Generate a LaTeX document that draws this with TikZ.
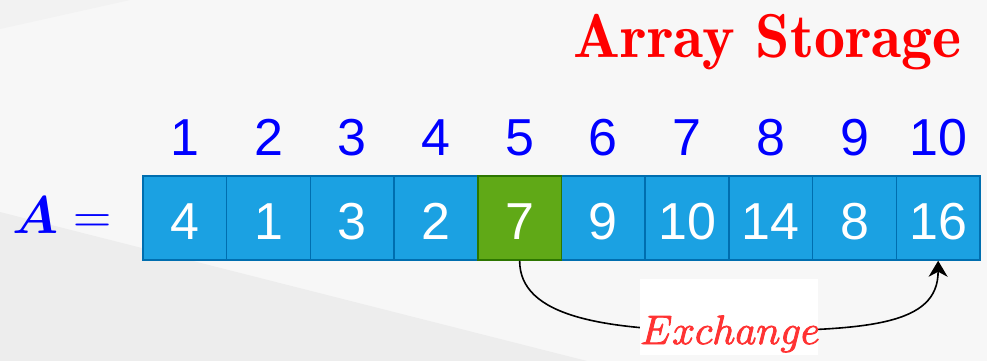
\RequirePackage{fix-cm}
\documentclass[tikz,border=0pt]{standalone}
\usepackage{amsmath}
\usepackage{fontspec}
\usetikzlibrary{arrows.meta}
\newfontfamily\cellfont{Liberation Sans}

% fill-and-stroke text rendering, to give thin glyphs a little weight
\newcommand{\heavytext}[2]{\special{pdf:literal 2 Tr #1 w}#2\special{pdf:literal 0 Tr}}

\definecolor{bgmain}{HTML}{F7F7F7}
\definecolor{bgdark}{HTML}{EDEDED}
\definecolor{bgtop}{HTML}{F2F2F2}
\definecolor{cellfill}{HTML}{1BA1E2}
\definecolor{cellline}{HTML}{006EAF}
\definecolor{pickfill}{HTML}{60A917}
\definecolor{pickline}{HTML}{2D7600}
\definecolor{idxblue}{HTML}{0000FF}
\definecolor{titlered}{HTML}{FF0000}
\definecolor{labelred}{HTML}{FF3333}

\tikzset{
  cellbox/.style={rectangle, draw=cellline, fill=cellfill, line width=1.5pt,
    minimum width=83.7pt, minimum height=84pt, inner sep=0pt,
    text=white, text height=43pt, text depth=0pt,
    font=\cellfont\fontsize{52}{52}\selectfont},
  pickbox/.style={cellbox, draw=pickline, fill=pickfill},
  idxlabel/.style={anchor=base, inner sep=0pt, text=idxblue,
    font=\cellfont\fontsize{52}{52}\selectfont},
  swaparrow/.style={draw=black, line width=1.6pt,
    -{Stealth[length=16pt, width=19pt, inset=5pt]}},
}

\begin{document}
\begin{tikzpicture}[x=1pt, y=-1pt]
  % canvas and background panels
  \useasboundingbox (0,0) rectangle (987,361);
  \fill[bgmain] (0,0) rectangle (987,361);
  \fill[bgtop] (0,0) -- (130,0) -- (0,29) -- cycle;
  \fill[bgdark] (0,212) -- (587,361) -- (0,361) -- cycle;

  % title
  \node[anchor=base east, inner sep=0pt, text=titlered,
        font=\fontseries{b}\selectfont\fontsize{62}{62}\selectfont]
        (title) at (962,57) {Array Storage};

  % array name
  \node[anchor=base west, inner sep=0pt, text=idxblue,
        font=\fontsize{53}{53}\selectfont]
        (aname) at (12,233) {$\boldsymbol{A} =$};

  % array cells and their indices
  \foreach \i/\v in {1/4,2/1,3/3,4/2,6/9,7/10,8/14,9/8,10/16} {
    \node[cellbox] (c\i) at ({143+83.7*(\i-0.5)},218) {\v};
  }
  \node[pickbox] (c5) at ({143+83.7*4.5},218) {7};
  \foreach \i in {1,...,10} {
    \node[idxlabel] (i\i) at ({143+83.7*(\i-0.5)},155) {\i};
  }

  % exchange connector with its label
  \coordinate (mid) at (729,331);
  \draw[swaparrow] (c5.south) .. controls +(0,55) and (600,331) .. (mid)
     .. controls (870,331) and (938,325) .. (c10.south);
  \node[rectangle, fill=white, minimum width=178pt, minimum height=76pt,
        inner sep=0pt] (exbox) at (729,317) {};
  \node[anchor=base, inner sep=0pt, text=labelred,
        font=\fontsize{41}{41}\selectfont]
        (exlabel) at (730,344) {\heavytext{0.9}{$Exchange$}};
\end{tikzpicture}
\end{document}
